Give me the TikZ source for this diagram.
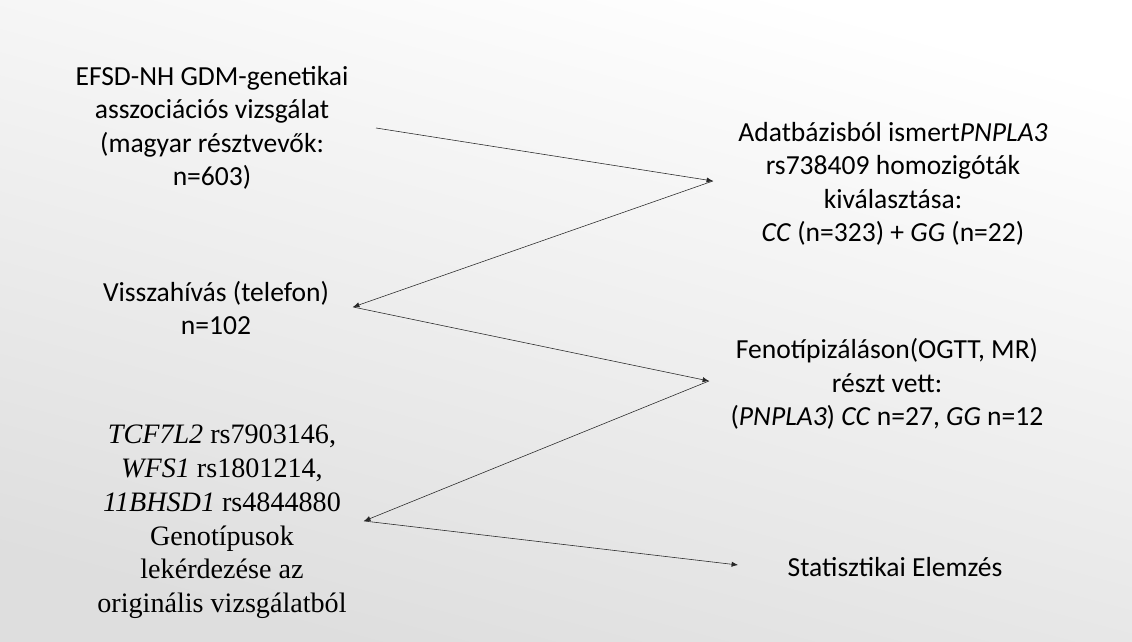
\documentclass[tikz,border=0pt]{standalone}
\usepackage{fontspec}
\setmainfont{Carlito}
\newfontfamily\timesfont{Liberation Serif}
\usetikzlibrary{arrows.meta,positioning}

\begin{document}
\begin{tikzpicture}[
    x=0.025cm, y=-0.025cm,
    font=\fontsize{19.6}{23.8}\selectfont,
    >=Latex,
    % node styles
    stage/.style   = {align=center, inner sep=0pt},
    oldstage/.style = {stage, font=\fontsize{20}{24}\selectfont\timesfont},
    % edges
    flow/.style    = {-{Latex[length=1.6mm, width=1.3mm]}, thin, black!85}
  ]

% background
\shade[shading=axis, top color=white, bottom color=black!13, shading angle=-15]
  (0,0) rectangle (1132,642);
\useasboundingbox (0,0) rectangle (1132,642);

% ============================================================
% Left column
% ============================================================
\node[stage] (efsd) at (212,128)
  {EFSD-NH GDM-genetikai\\ asszociációs vizsgálat\\ (magyar résztvevők:\\ n=603)};
\node[stage] (recall) at (216,308)
  {Visszahívás (telefon)\\ n=102};
\node[oldstage] (geno) at (222,522)
  {\textit{TCF7L2} rs7903146,\\ \textit{WFS1} rs1801214,\\ \textit{11BHSD1} rs4844880\\
   Genotípusok\\ lekérdezése az\\ originális vizsgálatból};

% ============================================================
% Right column
% ============================================================
\node[stage] (select) at (893,184)
  {Adatbázisból ismert\textit{PNPLA3}\\ rs738409 homozigóták\\ kiválasztása:\\
   \textit{CC} (n=323) + \textit{GG} (n=22)};
\node[stage] (pheno) at (887,384)
  {Fenotípizáláson(OGTT, MR)\\ részt vett:\\
   (\textit{PNPLA3}) \textit{CC} n=27, \textit{GG} n=12};
\node[stage] (stat) at (895,567) {Statisztikai Elemzés};

% connector ends
\coordinate (e1) at (376,128);
\coordinate (t1) at (713,181);
\coordinate (t2) at (353,307);
\coordinate (t3) at (709,381);
\coordinate (t4) at (364,521);
\coordinate (t5) at (738,565);

% zig-zag flow
\draw[flow] (e1) -- (t1);
\draw[flow] (t1) -- (t2);
\draw[flow] (t2) -- (t3);
\draw[flow] (t3) -- (t4);
\draw[flow] (t4) -- (t5);

\end{tikzpicture}
\end{document}
